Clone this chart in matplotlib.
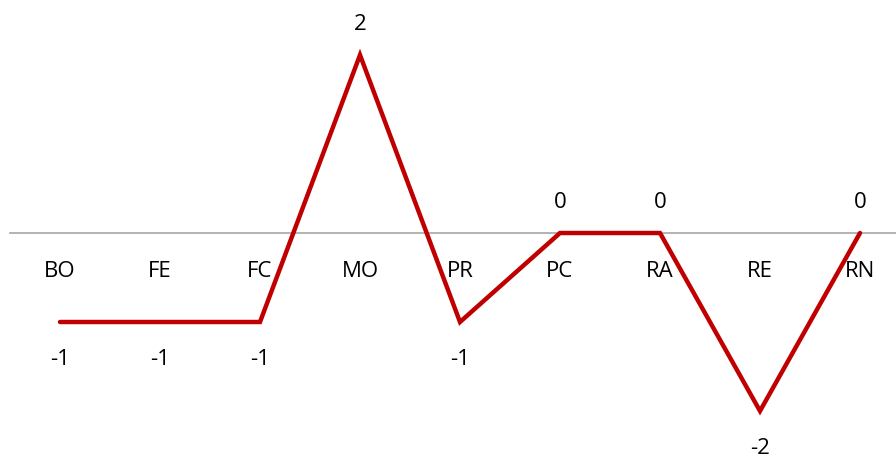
import matplotlib
matplotlib.use("Agg")
import matplotlib.pyplot as plt

categories = ["BO", "FE", "FC", "MO", "PR", "PC", "RA", "RE", "RN"]
values = [-1, -1, -1, 2, -1, 0, 0, -2, 0]

plt.rcParams['font.family'] = ['Open Sans', 'DejaVu Sans']

W, H = 896, 456
fig = plt.figure(figsize=(W / 100, H / 100), dpi=100)
ax = fig.add_axes([10 / W, 0, 900 / W, 1])
ax.set_xlim(-0.5, len(categories) - 0.5)
ax.set_ylim(-(H - 234) / 89.0, 234 / 89.0)

ax.plot(range(len(categories)), values, color="#C00000", linewidth=3.2,
        solid_capstyle="round", solid_joinstyle="miter", clip_on=False, zorder=3)

for s in ["top", "right", "left"]:
    ax.spines[s].set_visible(False)
ax.spines["bottom"].set_position(("data", 0))
ax.spines["bottom"].set_color("#A6A6A6")
ax.spines["bottom"].set_linewidth(1.2)
ax.spines["bottom"].set_zorder(1)
ax.set_yticks([])
ax.set_xticks(range(len(categories)))
ax.set_xticklabels(categories, fontsize=16)
ax.tick_params(axis="x", length=0, pad=27.0, colors="black")
for lab in ax.get_xticklabels():
    lab.set_va("center")

for i, v in enumerate(values):
    off = 22.5 if v >= 0 else -26.3
    ax.annotate(str(v), (i, v), xytext=(0, off), textcoords="offset points",
                ha="center", va="center", fontsize=16, annotation_clip=False)

ax.patch.set_alpha(0)
fig.savefig("out.png", dpi=100)
